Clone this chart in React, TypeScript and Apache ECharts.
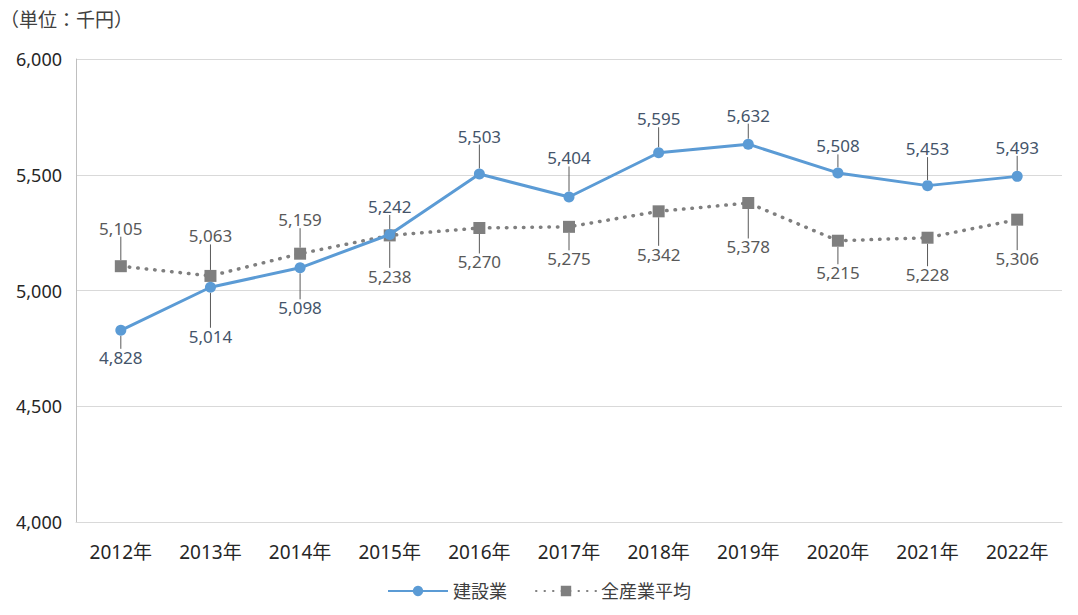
import React, { useEffect, useRef } from "react";
import * as echarts from "echarts";

const categories = ["2012年", "2013年", "2014年", "2015年", "2016年", "2017年", "2018年", "2019年", "2020年", "2021年", "2022年"];
const constructionValues = [4828, 5014, 5098, 5242, 5503, 5404, 5595, 5632, 5508, 5453, 5493];
const allIndustryValues = [5105, 5063, 5159, 5238, 5270, 5275, 5342, 5378, 5215, 5228, 5306];
const yTicks = { min: 4000, max: 6000, interval: 500 };
const unitLabel = "（単位：千円）";
const seriesNames = ["建設業", "全産業平均"];

// label vertical offsets (px) from point centre
const constructionLabelDy = [27, 49, 40, -28, -38, -39, -34, -29, -27, -37, -29];
const allIndustryLabelDy = [-38, -40, -34, 41, 34, 32, 43, 44, 32, 37, 39];

const FONT = '"Noto Sans", "Noto Sans CJK JP", sans-serif';

export default function App() {
  const ref = useRef<HTMLDivElement>(null);
  useEffect(() => {
    document.body.style.margin = "0";
    const chart = echarts.init(ref.current!, null, { renderer: "svg" });
    const fmt = (v: number) => v.toLocaleString("en-US");
    chart.setOption({
      animation: false,
      backgroundColor: "#ffffff",
      textStyle: { fontFamily: FONT },
      title: {
        text: unitLabel,
        left: 0,
        top: 10,
        padding: 0,
        textStyle: { fontFamily: FONT, fontSize: 19, fontWeight: "normal", color: "#404040" },
      },
      grid: { left: 76, right: 16, top: 59, bottom: 93, containLabel: false },
      legend: {
        bottom: 10,
        left: "center",
        itemWidth: 60,
        itemHeight: 13,
        itemGap: 28,
        textStyle: { fontFamily: FONT, fontSize: 18, color: "#404040" },
        data: seriesNames,
      },
      xAxis: {
        type: "category",
        data: categories,
        boundaryGap: true,
        axisLine: { show: true, lineStyle: { color: "#d9d9d9" } },
        axisTick: { show: false },
        axisLabel: { fontFamily: FONT, fontSize: 19, color: "#262626", margin: 20 },
      },
      yAxis: {
        type: "value",
        min: yTicks.min,
        max: yTicks.max,
        interval: yTicks.interval,
        axisLine: { show: true, lineStyle: { color: "#bfbfbf" } },
        axisTick: { show: false },
        splitLine: { lineStyle: { color: "#d9d9d9" } },
        axisLabel: { fontFamily: FONT, fontSize: 18, color: "#262626", margin: 14, formatter: (v: number) => fmt(v) },
      },
      series: [
        {
          name: seriesNames[0],
          type: "line",
          data: constructionValues,
          symbol: "circle",
          symbolSize: 11,
          z: 3,
          lineStyle: { color: "#5b9bd5", width: 3 },
          itemStyle: { color: "#5b9bd5" },
          label: {
            show: true,
            position: "inside",
            fontFamily: FONT,
            fontSize: 17,
            color: "#44546a",
            formatter: (p: any) => fmt(p.value),
          },
          labelLine: { show: true, lineStyle: { color: "#595959", width: 1 } },
          labelLayout: (p: any) => ({ dy: constructionLabelDy[p.dataIndex] }),
        },
        {
          name: seriesNames[1],
          type: "line",
          data: allIndustryValues,
          symbol: "rect",
          symbolSize: 12,
          z: 2,
          lineStyle: { color: "#7f7f7f", width: 3.5, type: [0.5, 8], cap: "round" },
          itemStyle: { color: "#7f7f7f" },
          label: {
            show: true,
            position: "inside",
            fontFamily: FONT,
            fontSize: 17,
            color: "#595959",
            formatter: (p: any) => fmt(p.value),
          },
          labelLine: { show: true, lineStyle: { color: "#595959", width: 1 } },
          labelLayout: (p: any) => ({ dy: allIndustryLabelDy[p.dataIndex] }),
        },
      ],
    });
    return () => chart.dispose();
  }, []);
  return <div ref={ref} style={{ position: "fixed", left: 0, top: 0, width: 1078, height: 615 }} />;
}
